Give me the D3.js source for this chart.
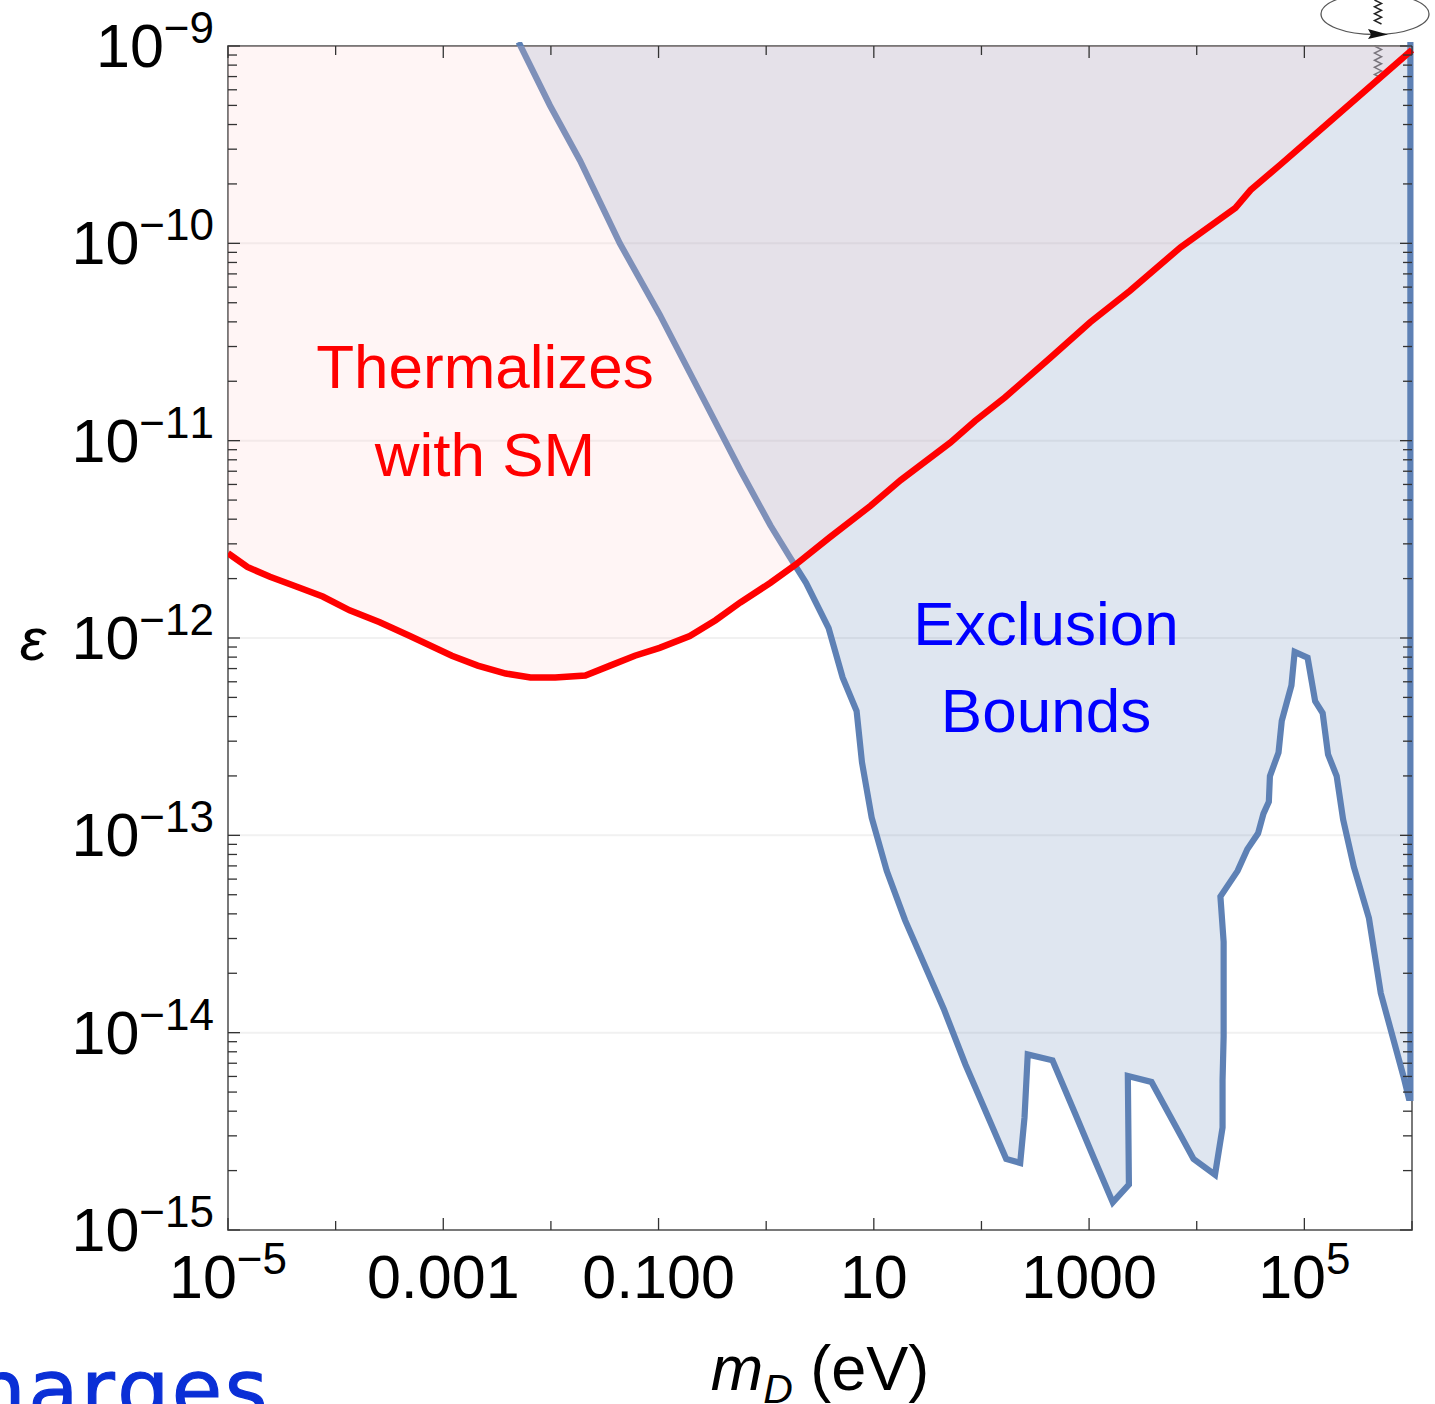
<!DOCTYPE html>
<html>
<head>
<meta charset="utf-8">
<script src="https://cdn.jsdelivr.net/npm/d3@7"></script>
<style>
  html, body { margin: 0; padding: 0; background: #fff; overflow: hidden; }
  text { font-family: "Liberation Sans", sans-serif; font-kerning: none; }
</style>
</head>
<body>
<script>
// Set the width and height of the page
var width = 1435;
var height = 1404;

// log10 of mass and of epsilon
var redMass = [-5.00,-4.82,-4.61,-4.36,-4.12,-3.87,-3.59,-3.31,-2.92,-2.68,-2.42,-2.19,-1.96,-1.68,-1.45,-1.22,-0.99,-0.71,-0.47,-0.24,0.04,0.27,0.59,0.97,1.25,1.71,1.94,2.22,2.64,3.01,3.38,3.85,4.36,4.50,4.78,5.20,6.00];
var redEps = [-11.57,-11.64,-11.69,-11.74,-11.79,-11.86,-11.92,-11.99,-12.09,-12.14,-12.18,-12.20,-12.20,-12.19,-12.14,-12.09,-12.05,-11.99,-11.91,-11.82,-11.72,-11.63,-11.49,-11.33,-11.20,-11.01,-10.90,-10.78,-10.58,-10.40,-10.24,-10.02,-9.82,-9.73,-9.60,-9.40,-9.02];

var blueMass = [-2.30,-2.01,-1.73,-1.36,-0.99,-0.61,-0.24,0.04,0.22,0.37,0.58,0.71,0.84,0.89,0.98,1.12,1.29,1.65,1.85,2.23,2.36,2.40,2.43,2.66,2.87,3.04,3.22,3.37,3.36,3.58,3.97,4.17,4.24,4.24,4.25,4.25,4.22,4.38,4.47,4.57,4.62,4.67,4.68,4.76,4.79,4.84,4.88,4.91,5.03,5.10,5.17,5.22,5.30,5.36,5.46,5.60,5.71,5.92,5.97,5.985,5.985];
var blueEps = [-8.98,-9.30,-9.58,-10.00,-10.36,-10.76,-11.15,-11.43,-11.59,-11.72,-11.95,-12.20,-12.37,-12.63,-12.91,-13.18,-13.43,-13.88,-14.16,-14.64,-14.66,-14.43,-14.11,-14.14,-14.41,-14.63,-14.86,-14.77,-14.22,-14.25,-14.64,-14.72,-14.48,-14.24,-14.02,-13.54,-13.31,-13.18,-13.07,-12.99,-12.89,-12.83,-12.70,-12.58,-12.42,-12.32,-12.24,-12.07,-12.10,-12.32,-12.38,-12.59,-12.70,-12.92,-13.16,-13.42,-13.80,-14.22,-14.33,-14.33,-8.98];

// Tick exponents and labels
var xMajor = [-5,-3,-1,1,3,5];
var xMinor = [-4,-2,0,2,4,6];
var xLabels = [["10","\u22125"],["0.001"],["0.100"],["10"],["1000"],["10","5"]];
var yDecades = [-9,-10,-11,-12,-13,-14,-15];
var yMinorSteps = [2,3,4,5,6,7,8,9];

var svg = d3.select("body")
            .append("svg")
            .attr("width", width)
            .attr("height", height)
            .style("display", "block");

// Scales for the plot frame
var x = d3.scaleLog().domain([1e-5, 1e6]).range([228, 1412]);
var y = d3.scaleLog().domain([1e-15, 1e-9]).range([1230, 46]);

function px(e) { return x(Math.pow(10, e)); }
function py(e) { return y(Math.pow(10, e)); }

var red = redMass.map(function(m, i) { return [m, redEps[i]]; });
var blue = blueMass.map(function(m, i) { return [m, blueEps[i]]; });

var line = d3.line().x(function(d) { return px(d[0]); }).y(function(d) { return py(d[1]); });

svg.append("clipPath").attr("id", "frame").append("rect")
   .attr("x", 228).attr("y", 42).attr("width", 1186).attr("height", 1188);
svg.append("clipPath").attr("id", "inner").append("rect")
   .attr("x", 228).attr("y", 46).attr("width", 1184).attr("height", 1184);

// Grid lines at each decade
svg.append("g").selectAll("line")
   .data(yDecades.slice(1, -1))
   .enter().append("line")
   .attr("x1", 228).attr("x2", 1412)
   .attr("y1", py).attr("y2", py)
   .attr("stroke", "#f1f1f1")
   .attr("stroke-width", 2);

// Zigzag stem of the small diagram, it runs behind the frame
function stem(y0, y1) {
  var pts = [];
  var n = Math.round((y1 - y0) / 3.4);
  for (var i = 0; i <= n; i++) {
    pts.push([1378 + (i % 2 ? 3.5 : -3.5), y0 + (y1 - y0) * i / n]);
  }
  return d3.line()(pts);
}
svg.append("path").attr("d", stem(46, 78)).attr("fill", "none").attr("stroke", "#555").attr("stroke-width", 1.5);
svg.append("path").attr("d", stem(0, 24)).attr("fill", "none").attr("stroke", "#222").attr("stroke-width", 1.5);
svg.append("ellipse")
   .attr("cx", 1375).attr("cy", 14).attr("rx", 54).attr("ry", 20.5)
   .attr("fill", "none").attr("stroke", "#555").attr("stroke-width", 1.3);
svg.append("path").attr("d", "M1368,29 L1388,34.5 L1368,39 L1371,34.5 Z").attr("fill", "#111");

// Exclusion region, the thermal region goes over it and washes out the upper curve
svg.append("path")
   .attr("clip-path", "url(#inner)")
   .attr("d", line(blue))
   .attr("fill", "#5e81b5")
   .attr("fill-opacity", 0.2);

// Frame
svg.append("rect")
   .attr("x", 228).attr("y", 46).attr("width", 1184).attr("height", 1184)
   .attr("fill", "none").attr("stroke", "#6b6b6b").attr("stroke-width", 1.8);

var plot = svg.append("g").attr("clip-path", "url(#frame)");

plot.append("path")
    .attr("d", line(blue))
    .attr("fill", "none")
    .attr("stroke", "#5e81b5")
    .attr("stroke-width", 6.2)
    .attr("stroke-linejoin", "miter");
plot.append("path")
    .attr("clip-path", "url(#inner)")
    .attr("d", line(red.concat([[6, -9], [-5, -9]])))
    .attr("fill", "rgb(255,205,205)")
    .attr("fill-opacity", 0.2);
plot.append("path")
    .attr("d", line(red))
    .attr("fill", "none")
    .attr("stroke", "#ff0000")
    .attr("stroke-width", 6.5);

// Ticks on all four sides
var ticks = svg.append("g").attr("stroke", "#333").attr("stroke-width", 1.3);
function xTicks(list, len) {
  list.forEach(function(e) {
    ticks.append("line").attr("x1", px(e)).attr("x2", px(e)).attr("y1", 1230).attr("y2", 1230 - len);
    ticks.append("line").attr("x1", px(e)).attr("x2", px(e)).attr("y1", 46).attr("y2", 46 + len);
  });
}
function yTick(v, len) {
  ticks.append("line").attr("x1", 228).attr("x2", 228 + len).attr("y1", y(v)).attr("y2", y(v));
  ticks.append("line").attr("x1", 1412).attr("x2", 1412 - len).attr("y1", y(v)).attr("y2", y(v));
}
xTicks(xMajor, 12);
xTicks(xMinor, 9);
yDecades.forEach(function(e) {
  yTick(Math.pow(10, e), 12);
});
yDecades.slice(1).forEach(function(e) {
  yMinorSteps.forEach(function(s) { yTick(s * Math.pow(10, e), 9); });
});

// Tick labels
var xLab = svg.append("g").attr("fill", "#000").attr("font-size", 61).attr("text-anchor", "middle");
xMajor.forEach(function(e, i) {
  var t = xLab.append("text").attr("x", px(e)).attr("y", 1298);
  t.append("tspan").text(xLabels[i][0]);
  if (xLabels[i][1]) {
    t.append("tspan").attr("font-size", 44).attr("dy", -24).text(xLabels[i][1]);
  }
});
var yLab = svg.append("g").attr("fill", "#000").attr("font-size", 61).attr("text-anchor", "end");
yDecades.forEach(function(e) {
  var t = yLab.append("text").attr("x", 214).attr("y", py(e) + 21);
  t.append("tspan").text("10");
  t.append("tspan").attr("font-size", 44).attr("dy", -24).text(String(e).replace("-", "\u2212"));
});

// Axis titles
svg.append("text").attr("x", 33).attr("y", 660).attr("text-anchor", "middle")
   .attr("font-size", 60).attr("font-style", "italic").text("\u03b5");
var xt = svg.append("text").attr("x", 820).attr("y", 1390).attr("text-anchor", "middle").attr("font-size", 63);
xt.append("tspan").attr("font-style", "italic").text("m");
xt.append("tspan").attr("font-style", "italic").attr("font-size", 41).attr("dy", 13).text("D");
xt.append("tspan").attr("dy", -13).text(" (eV)");

// Region labels
svg.append("g").attr("fill", "#ff0000").attr("font-size", 62).attr("text-anchor", "middle")
   .selectAll("text").data([["Thermalizes", 388], ["with SM", 476]]).enter().append("text")
   .attr("x", 485).attr("y", function(d) { return d[1]; }).text(function(d) { return d[0]; });
svg.append("g").attr("fill", "#0000ff").attr("font-size", 62).attr("text-anchor", "middle")
   .selectAll("text").data([["Exclusion", 645], ["Bounds", 732]]).enter().append("text")
   .attr("x", 1046).attr("y", function(d) { return d[1]; }).text(function(d) { return d[0]; });

// Cut off word at the bottom edge
svg.append("text").attr("x", 270).attr("y", 1418).attr("text-anchor", "end")
   .attr("font-size", 82)
   .attr("fill", "#0a2fd6").attr("stroke", "#0a2fd6").attr("stroke-width", 1.2)
   .style("font-family", "'DejaVu Sans'").style("letter-spacing", "2.5px").text("Charges");
</script>
</body>
</html>
